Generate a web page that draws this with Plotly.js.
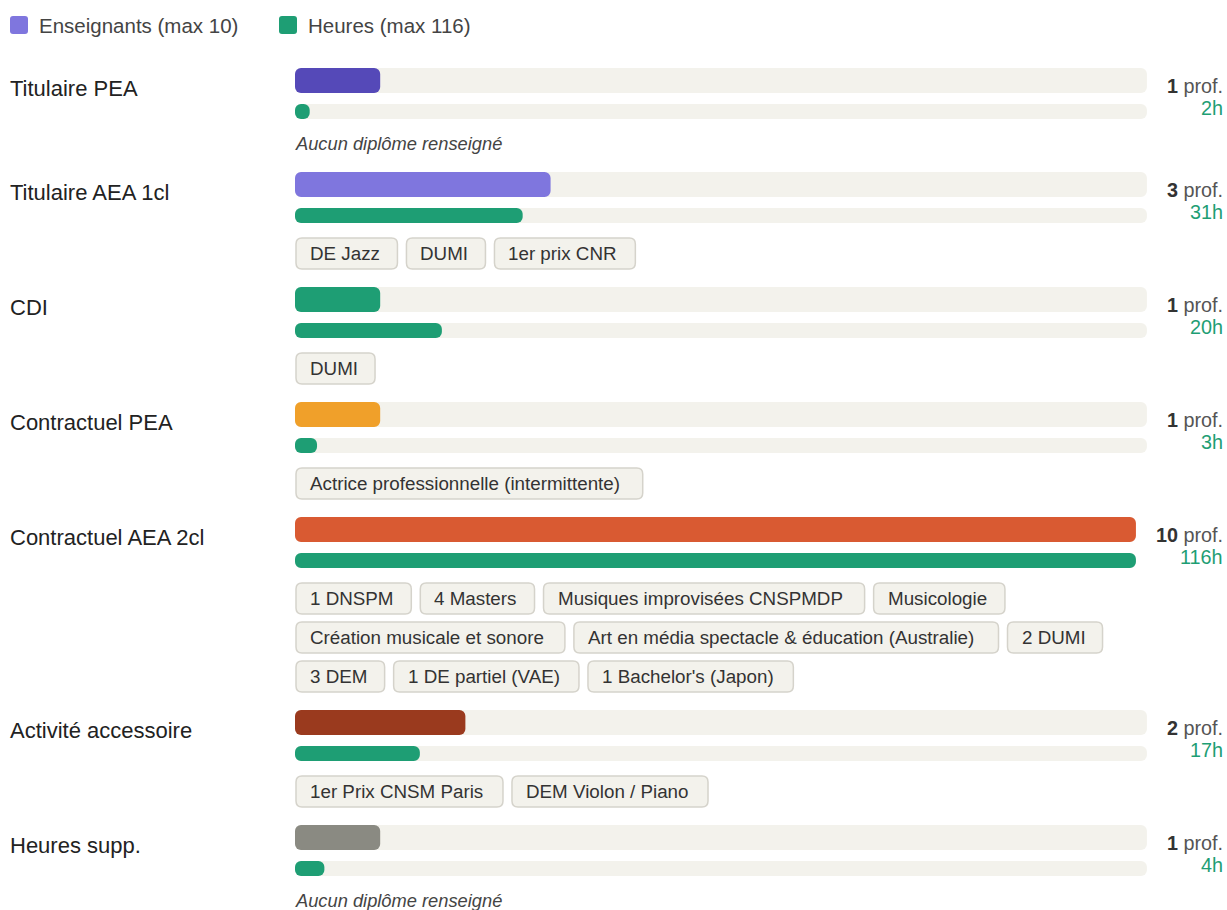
<!DOCTYPE html>
<html>
<head>
<meta charset="utf-8">
<script src="https://cdn.plot.ly/plotly-3.0.1.min.js"></script>
<style>html,body{margin:0;padding:0;background:#fff;}#chart{width:1227px;height:910px;}</style>
</head>
<body>
<div id="chart"></div>
<script>
// ---- DATA ----
const categories = ['Titulaire PEA','Titulaire AEA 1cl','CDI','Contractuel PEA','Contractuel AEA 2cl','Activité accessoire','Heures supp.'];
const enseignants = [1, 3, 1, 1, 10, 2, 1];
const heures = [2, 31, 20, 3, 116, 17, 4];
const diplomes = [
  [],
  ['DE Jazz','DUMI','1er prix CNR'],
  ['DUMI'],
  ['Actrice professionnelle (intermittente)'],
  ['1 DNSPM','4 Masters','Musiques improvisées CNSPMDP','Musicologie','Création musicale et sonore','Art en média spectacle & éducation (Australie)','2 DUMI','3 DEM','1 DE partiel (VAE)',"1 Bachelor's (Japon)"],
  ['1er Prix CNSM Paris','DEM Violon / Piano'],
  []
];
const legendLabels = ['Enseignants', 'Heures'];
const noDiplomaText = 'Aucun diplôme renseigné';

// ---- STYLE ----
const catColors = ['#5549b8','#7f76de','#1e9e74','#f0a02a','#d95a32','#9a3a1e','#8a8a82'];
const hoursColor = '#1e9e74';
const legendColors = ['#7f76de', hoursColor];
const trackColor = '#f3f2ec';
const FONT = '"Liberation Sans", Arial, Helvetica, sans-serif';
const W = 1227, H = 910;
const X0 = 295, XR = 1147, RIGHT = 1225;
const RCOL = 19.8;

const maxE = Math.max(...enseignants);
const maxH = Math.max(...heures);

const cv = document.createElement('canvas').getContext('2d');
function measure(t, f){ cv.font = f; return cv.measureText(t).width; }
const px = x => x / W;
const py = y => 1 - y / H;
const toFrac = x => (x - X0) / (XR - X0);

function roundRect(x0, y0, x1, y1, r){
  const a = px(x0), b = px(x1), c = py(y0), d = py(y1);
  const rx = r / W, ry = r / H;
  return `M${a+rx},${c} L${b-rx},${c} Q${b},${c} ${b},${c-ry} L${b},${d+ry} Q${b},${d} ${b-rx},${d} L${a+rx},${d} Q${a},${d} ${a},${d+ry} L${a},${c-ry} Q${a},${c} ${a+rx},${c} Z`;
}

const shapes = [], annotations = [];
const ensY = [], hrsY = [], trackFrac = [];

// legend
const legendX = [10, 279];
legendLabels.forEach((l, k) => {
  const mx = k === 0 ? maxE : maxH;
  shapes.push({type:'path', xref:'paper', yref:'paper', path: roundRect(legendX[k], 16, legendX[k]+18, 34, 3),
    fillcolor: legendColors[k], line:{width:0}});
  annotations.push({xref:'paper', yref:'paper', x: px(legendX[k]+27), y: py(25), xanchor:'left', yanchor:'middle',
    text: `${l} (max ${mx})`, showarrow:false, font:{family:FONT, size:20.5, color:'#444'}});
});

let T = 68;
categories.forEach((cat, i) => {
  ensY.push(T + 12.5);
  hrsY.push(T + 43.5);
  const numW = measure(String(enseignants[i]), `bold ${RCOL}px ` + FONT) + measure(' prof.', `${RCOL}px ` + FONT);
  const hW = measure(heures[i] + 'h', `${RCOL}px ` + FONT);
  const colW = Math.max(numW, hW);
  const trackEnd = Math.min(XR, RIGHT - 2 - colW - 20);
  trackFrac.push(toFrac(trackEnd));
  annotations.push({xref:'paper', yref:'paper', x: px(8), y: py(T + 20.5), xanchor:'left', yanchor:'middle',
    text: cat, showarrow:false, font:{family:FONT, size:22, color:'#222'}});
  annotations.push({xref:'paper', yref:'paper', x: px(RIGHT), y: py(T + 18), xanchor:'right', yanchor:'middle',
    text: `<b>${enseignants[i]}</b><span style="color:#555"> prof.</span>`, showarrow:false, font:{family:FONT, size:RCOL, color:'#333'}});
  annotations.push({xref:'paper', yref:'paper', x: px(RIGHT), y: py(T + 40), xanchor:'right', yanchor:'middle',
    text: `${heures[i]}h`, showarrow:false, font:{family:FONT, size:RCOL, color:hoursColor}});
  let end;
  const tags = diplomes[i];
  if (tags.length === 0) {
    annotations.push({xref:'paper', yref:'paper', x: px(293), y: py(T + 75), xanchor:'left', yanchor:'middle',
      text: `<i>${noDiplomaText}</i>`, showarrow:false, font:{family:FONT, size:18.3, color:'#444'}});
    end = T + 86;
  } else {
    let cx = 296, line = 0;
    const top0 = T + 66;
    tags.forEach(t => {
      const w = measure(t, '19.2px ' + FONT) + 30;
      if (cx + w > XR && cx > 296) { line++; cx = 296; }
      const y0 = top0 + line * 39, y1 = y0 + 31;
      shapes.push({type:'path', xref:'paper', yref:'paper', path: roundRect(cx, y0, cx + w, y1, 6),
        fillcolor: trackColor, line:{color:'#d5d3cb', width:1.5}});
      annotations.push({xref:'paper', yref:'paper', x: px(cx + 12), y: py((y0 + y1)/2), xanchor:'left', yanchor:'middle',
        text: t, showarrow:false, font:{family:FONT, size:18.8, color:'#333'}});
      cx += w + 9;
    });
    end = top0 + line * 39 + 31;
  }
  T = end + 18;
});

const ensV = enseignants.map((v, i) => v / maxE * trackFrac[i]);
const hrsV = heures.map((v, i) => v / maxH * trackFrac[i]);
const baseZero = categories.map(() => 1e-9);

function bar(vals, y, w, r, color, name){
  return {type:'bar', orientation:'h', name, y, base: baseZero, x: vals, width: w,
    marker:{color, cornerradius:r}, hoverinfo:'skip', showlegend:false};
}

const data = [
  bar(trackFrac, ensY, 25, 6, trackColor, 'track'),
  bar(trackFrac, hrsY, 15, 6, trackColor, 'track'),
  bar(ensV, ensY, 25, 6, catColors, legendLabels[0]),
  bar(hrsV, hrsY, 15, 6, hoursColor, legendLabels[1])
];

const layout = {
  width: W, height: H,
  margin: {l:0, r:0, t:0, b:0, pad:0},
  paper_bgcolor: '#fff', plot_bgcolor: '#fff',
  barmode: 'overlay',
  showlegend: false,
  xaxis: {domain: [X0/W, XR/W], range: [0, 1], visible: false, fixedrange: true},
  yaxis: {domain: [0, 1], range: [H, 0], visible: false, fixedrange: true},
  shapes, annotations,
  font: {family: FONT}
};

Plotly.newPlot('chart', data, layout, {staticPlot: true, displayModeBar: false});
</script>
</body>
</html>
